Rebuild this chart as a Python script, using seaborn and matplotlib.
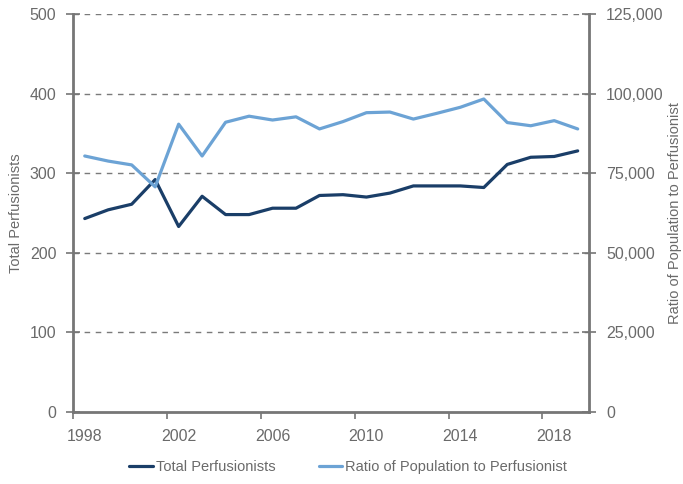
import matplotlib
matplotlib.use("Agg")
import matplotlib.pyplot as plt
import seaborn as sns
import pandas as pd
from matplotlib.lines import Line2D
from matplotlib.ticker import FuncFormatter, FixedLocator

years = list(range(1998, 2020))
total_perfusionists = [243, 254, 261, 292, 233, 271, 248, 248, 256, 256, 272, 273,
                       270, 275, 284, 284, 284, 282, 311, 320, 321, 328]
ratio_pop = [80400, 78800, 77600, 70700, 90400, 80400, 91000, 92900, 91700, 92700,
             88900, 91200, 94000, 94200, 92000, 93800, 95700, 98300, 90900, 89900,
             91500, 88900]
label_years = [1998, 2002, 2006, 2010, 2014, 2018]

dark = "#1A3E68"
light = "#6CA3D5"
gray_txt = "#6A6A6A"
spine_c = "#767676"

sns.set_theme(style="white")
plt.rcParams['font.family'] = ['Liberation Sans', 'DejaVu Sans']

df = pd.DataFrame({"pos": range(len(years)), "year": years,
                   "total": total_perfusionists, "ratio": ratio_pop})

fig = plt.figure(figsize=(6.83, 4.84), dpi=100)
ax = fig.add_axes([0.1069, 0.1488, 0.7561, 0.8223])
ax2 = ax.twinx()

sns.lineplot(data=df, x="pos", y="total", ax=ax, color=dark, linewidth=2.3, legend=False)
sns.lineplot(data=df, x="pos", y="ratio", ax=ax2, color=light, linewidth=2.3, legend=False)

n = len(years)
ax.set_xlim(-0.5, n - 0.5)
ax.set_ylim(0, 500)
ax2.set_ylim(0, 125000)
ax.set_yticks([0, 100, 200, 300, 400, 500])
ax2.set_yticks([0, 25000, 50000, 75000, 100000, 125000])
ax2.yaxis.set_major_formatter(FuncFormatter(lambda v, p: f"{int(v):,}"))

# category boundaries as tick marks, labels centred on categories
ax.xaxis.set_major_locator(FixedLocator([-0.5 + 4 * k for k in range(6)]))
ax.set_xticklabels([])
ax.xaxis.set_minor_locator(FixedLocator([years.index(y) for y in label_years]))
ax.set_xticklabels([str(y) for y in label_years], minor=True)

for y in [100, 200, 300, 400, 500]:
    ax.axhline(y, color="#7A7A7A", linewidth=1.0, linestyle=(0, (4, 4)), zorder=0)

for a in (ax, ax2):
    for s in a.spines.values():
        s.set_visible(False)
ax.spines["left"].set_visible(True)
ax.spines["bottom"].set_visible(True)
ax2.spines["right"].set_visible(True)
for s in (ax.spines["left"], ax.spines["bottom"], ax2.spines["right"]):
    s.set_color(spine_c)
    s.set_linewidth(2.0)

ax.tick_params(axis="y", which="major", direction="inout", length=10, width=1.2,
               color=spine_c, labelsize=11.5, labelcolor=gray_txt, pad=7, left=True)
ax2.tick_params(axis="y", which="major", direction="inout", length=10, width=1.2,
                color=spine_c, labelsize=11.5, labelcolor=gray_txt, pad=7, right=True)
ax.tick_params(axis="x", which="major", direction="out", length=5, width=1.2,
               color=spine_c, bottom=True)
ax.tick_params(axis="x", which="minor", length=0, labelsize=11.5, labelcolor=gray_txt,
               pad=12, bottom=True)

ax.set_xlabel("")
ax.set_ylabel("")
ax2.set_ylabel("")
fig.text(16 / 683, 1 - 213 / 484, "Total Perfusionists", rotation=90, ha="center",
         va="center", fontsize=10.5, color=gray_txt)
fig.text(675 / 683, 1 - 213 / 484, "Ratio of Population to Perfusionist", rotation=90,
         ha="center", va="center", fontsize=10.5, color=gray_txt)

handles = [Line2D([], [], color=dark, linewidth=2.3),
           Line2D([], [], color=light, linewidth=2.3)]
fig.legend(handles, ["Total Perfusionists", "Ratio of Population to Perfusionist"],
           loc="center", bbox_to_anchor=(0.51, 0.035), ncol=2, frameon=False,
           fontsize=10.5, labelcolor=gray_txt, handlelength=1.6, handletextpad=0.2,
           columnspacing=3.0)

fig.savefig("out.png", dpi=100)
